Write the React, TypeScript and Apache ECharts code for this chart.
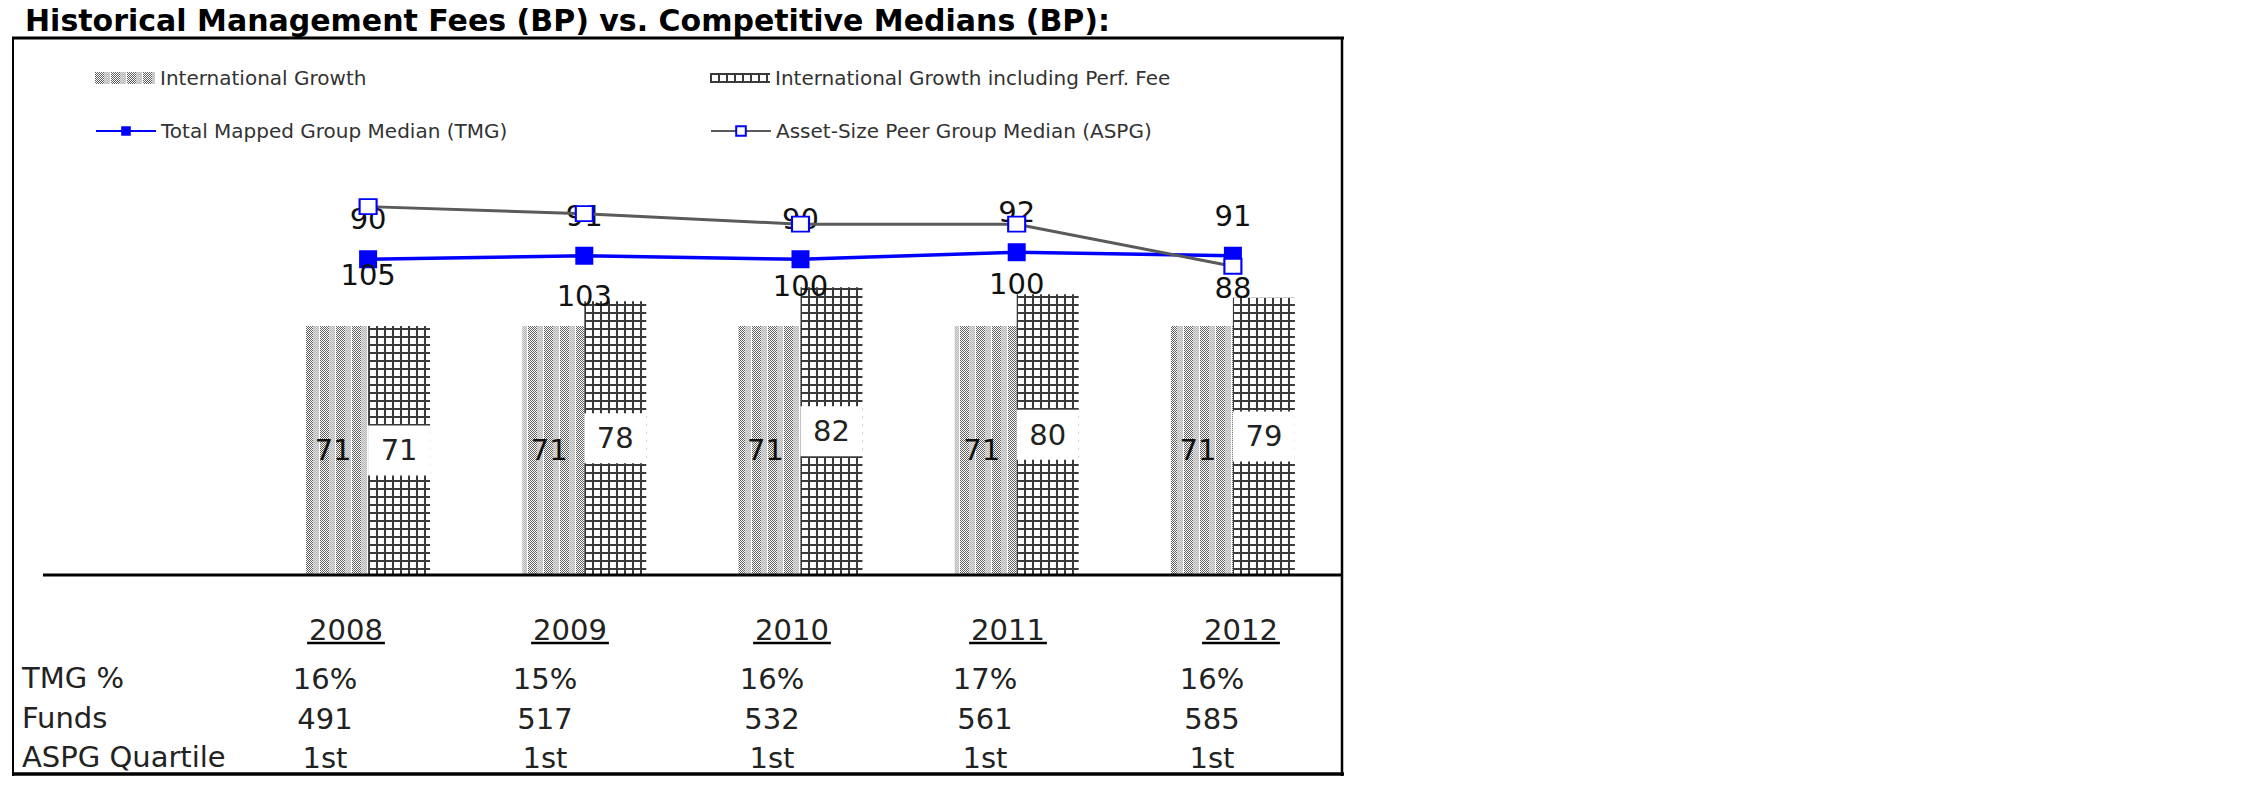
import React, { useEffect, useRef } from 'react';
import * as echarts from 'echarts';

// ---------- data ----------
const YEARS = ['2008', '2009', '2010', '2011', '2012'];
const INTL_GROWTH = [71, 71, 71, 71, 71];
const INTL_GROWTH_PERF = [71, 78, 82, 80, 79];
const TMG_MEDIAN = [90, 91, 90, 92, 91];
const ASPG_MEDIAN = [105, 103, 100, 100, 88];
const ROW_LABELS = ['TMG %', 'Funds', 'ASPG Quartile'];
const TMG_PCT = ['16%', '15%', '16%', '17%', '16%'];
const FUNDS = ['491', '517', '532', '561', '585'];
const ASPG_QUARTILE = ['1st', '1st', '1st', '1st', '1st'];

const TITLE = 'Historical Management Fees (BP) vs. Competitive Medians (BP):';
const S_INTL = 'International Growth';
const S_PERF = 'International Growth including Perf. Fee';
const S_TMG = 'Total Mapped Group Median (TMG)';
const S_ASPG = 'Asset-Size Peer Group Median (ASPG)';

// ---------- layout ----------
const FONT = '"DejaVu Sans", Verdana, sans-serif';
const ASPG_LABEL_DY = [68, 82, 62, 60, 22];
const YEAR_X = [346, 570, 792, 1008, 1241];
const COL_X = [325, 545, 772, 985, 1212];
const ROW_Y = [678, 718, 757];

function makeIntlPattern(): HTMLCanvasElement {
  const w = 16, h = 4;
  const c = document.createElement('canvas');
  c.width = w; c.height = h;
  const ctx = c.getContext('2d')!;
  ctx.fillStyle = '#ffffff';
  ctx.fillRect(0, 0, w, h);
  for (let x = 0; x < w; x++) {
    for (let y = 0; y < h; y++) {
      const light = x >= 9 && x <= 14;
      const gap = x === 15;
      if (gap) continue;
      if ((x + y) % 2 === 0) {
        ctx.fillStyle = light ? '#b8b8b8' : '#5e5e5e';
        ctx.fillRect(x, y, 1, 1);
      } else if (light) {
        ctx.fillStyle = '#dcdcdc';
        ctx.fillRect(x, y, 1, 1);
      }
    }
  }
  return c;
}

function makeGridPattern(): HTMLCanvasElement {
  const w = 8, h = 8;
  const c = document.createElement('canvas');
  c.width = w; c.height = h;
  const ctx = c.getContext('2d')!;
  ctx.fillStyle = '#ffffff';
  ctx.fillRect(0, 0, w, h);
  ctx.fillStyle = '#3a3a3a';
  ctx.fillRect(0, 0, 2, h);
  ctx.fillRect(0, 0, w, 2);
  return c;
}

function textWidth(text: string, font: string): number {
  const c = document.createElement('canvas');
  const ctx = c.getContext('2d')!;
  ctx.font = font;
  return ctx.measureText(text).width;
}

export default function App() {
  const ref = useRef<HTMLDivElement>(null);

  useEffect(() => {
    document.body.style.margin = '0';
    if (!ref.current) return;
    const chart = echarts.init(ref.current, null, { renderer: 'svg' });

    const intlCanvas = makeIntlPattern();
    const gridCanvas = makeGridPattern();
    const intlFill: any = { image: intlCanvas, repeat: 'repeat', imageWidth: 16, imageHeight: 4 };
    const gridFill: any = { image: gridCanvas, repeat: 'repeat', imageWidth: 8, imageHeight: 8 };

    const legendBase = {
      orient: 'horizontal',
      padding: 0,
      itemWidth: 60,
      selectedMode: false,
      textStyle: { fontSize: 20, fontFamily: FONT, color: '#333', lineHeight: 22 },
    };

    const tableFont = `29px ${FONT}`;
    const graphics: any[] = [];
    graphics.push({
      type: 'text', x: 25, y: 20, z: 10,
      style: { text: TITLE, fontSize: 30, fontWeight: 'bold', fontFamily: FONT, fill: '#000', align: 'left', verticalAlign: 'middle' },
    });
    // frame
    graphics.push({ type: 'line', shape: { x1: 12, y1: 38, x2: 1344, y2: 38 }, style: { stroke: '#000', lineWidth: 3 } });
    graphics.push({ type: 'line', shape: { x1: 13, y1: 37, x2: 13, y2: 776 }, style: { stroke: '#000', lineWidth: 2 } });
    graphics.push({ type: 'line', shape: { x1: 1342, y1: 37, x2: 1342, y2: 776 }, style: { stroke: '#000', lineWidth: 2.5 } });
    graphics.push({ type: 'line', shape: { x1: 12, y1: 774, x2: 1344, y2: 774 }, style: { stroke: '#000', lineWidth: 3.5 } });
    // baseline
    graphics.push({ type: 'line', shape: { x1: 43, y1: 575, x2: 1342, y2: 575 }, style: { stroke: '#000', lineWidth: 3 }, z: 5 });
    // year headers with underline
    YEARS.forEach((yr, i) => {
      const w = textWidth(yr, tableFont);
      graphics.push({
        type: 'text', x: YEAR_X[i], y: 630,
        style: { text: yr, fontSize: 29, fontFamily: FONT, fill: '#222', align: 'center', verticalAlign: 'middle' },
      });
      graphics.push({
        type: 'line', shape: { x1: YEAR_X[i] - w / 2 - 2, y1: 643, x2: YEAR_X[i] + w / 2 + 2, y2: 643 },
        style: { stroke: '#000', lineWidth: 2.5 },
      });
    });
    // table rows
    const rows = [TMG_PCT, FUNDS, ASPG_QUARTILE];
    ROW_LABELS.forEach((lab, r) => {
      graphics.push({
        type: 'text', x: 22, y: ROW_Y[r],
        style: { text: lab, fontSize: 29, fontFamily: FONT, fill: '#222', align: 'left', verticalAlign: 'middle' },
      });
      rows[r].forEach((v, i) => {
        graphics.push({
          type: 'text', x: COL_X[i], y: ROW_Y[r] + 1,
          style: { text: v, fontSize: 29, fontFamily: FONT, fill: '#222', align: 'center', verticalAlign: 'middle' },
        });
      });
    });

    const option: any = {
      animation: false,
      backgroundColor: '#ffffff',
      grid: { left: 260, right: 909, top: 154, bottom: 221, containLabel: false },
      xAxis: {
        type: 'category',
        data: YEARS,
        axisLine: { show: false },
        axisTick: { show: false },
        axisLabel: { show: false },
        splitLine: { show: false },
      },
      yAxis: { type: 'value', min: 0, max: 120, show: false, splitLine: { show: false } },
      legend: [
        { ...legendBase, data: [S_INTL], left: 95, top: 67, icon: 'rect', itemHeight: 12 },
        { ...legendBase, data: [S_PERF], left: 710, top: 67, icon: 'rect', itemHeight: 10 },
        { ...legendBase, data: [S_TMG], left: 95, top: 120, itemHeight: 12 },
        { ...legendBase, data: [S_ASPG], left: 710, top: 120, itemHeight: 12 },
      ],
      series: [
        {
          name: S_INTL,
          type: 'bar',
          data: INTL_GROWTH,
          barWidth: 62,
          barGap: '0%',
          itemStyle: { color: intlFill },
          label: {
            show: true, position: 'inside', offset: [-4, 0],
            fontSize: 29, fontFamily: FONT, color: '#111',
          },
        },
        {
          name: S_PERF,
          type: 'bar',
          data: INTL_GROWTH_PERF,
          barWidth: 62,
          barGap: '0%',
          itemStyle: { color: gridFill },
          label: {
            show: true, position: 'inside',
            fontSize: 29, fontFamily: FONT, color: '#222',
            backgroundColor: '#ffffff', width: 60, align: 'center',
            lineHeight: 30, padding: [10, 1],
          },
        },
        {
          name: S_TMG,
          type: 'line',
          data: TMG_MEDIAN,
          symbol: 'rect',
          symbolSize: 18,
          itemStyle: { color: '#0000ff' },
          lineStyle: { color: '#0000ff', width: 3.5 },
          label: {
            show: true, position: 'inside', offset: [0, -40],
            fontSize: 29, fontFamily: FONT, color: '#111',
          },
          z: 3,
        },
        {
          name: S_ASPG,
          type: 'line',
          data: ASPG_MEDIAN.map((v, i) => ({ value: v, label: { offset: [0, ASPG_LABEL_DY[i]] } })),
          symbol: 'rect',
          symbolSize: [17, 15],
          itemStyle: { color: '#ffffff', borderColor: '#0000ff', borderWidth: 2 },
          lineStyle: { color: '#5a5a5a', width: 3 },
          label: {
            show: true, position: 'inside',
            fontSize: 29, fontFamily: FONT, color: '#111',
          },
          z: 4,
        },
      ],
      graphic: graphics,
    };

    chart.setOption(option);
    return () => chart.dispose();
  }, []);

  return <div ref={ref} style={{ width: 2250, height: 796 }} />;
}
